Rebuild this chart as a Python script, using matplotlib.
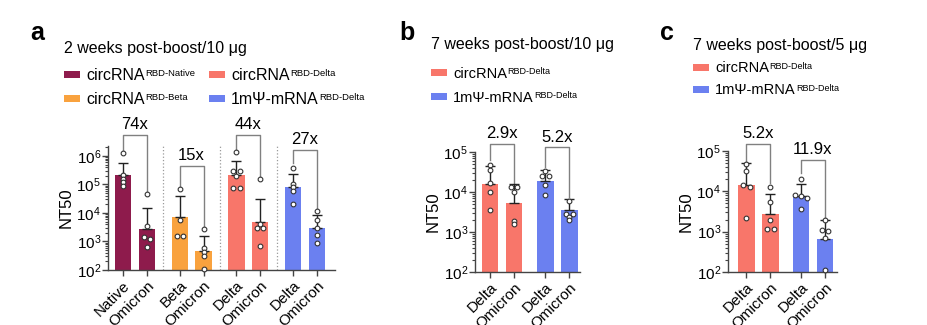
""" NT50 neutralisation panels a-c """

import numpy as np
import matplotlib.pyplot as plt
from matplotlib.patches import Rectangle
from matplotlib.ticker import LogLocator, NullFormatter

plt.rcParams['font.family'] = ['Liberation Sans', 'DejaVu Sans']
plt.rcParams['mathtext.fontset'] = 'custom'
plt.rcParams['mathtext.rm'] = 'Liberation Sans'
plt.rcParams['mathtext.it'] = 'Liberation Sans:italic'
plt.rcParams['mathtext.bf'] = 'Liberation Sans:bold'

W, H = 927, 325

NATIVE = '#8e1b4c'
BETA = '#f9a23e'
DELTA = '#f8766a'
MRNA = '#6b80f0'

# ---- panel a: 2 weeks post-boost / 10 ug
a_labels = ['Native', 'Omicron', 'Beta', 'Omicron', 'Delta', 'Omicron', 'Delta', 'Omicron']
a_colors = [NATIVE, NATIVE, BETA, BETA, DELTA, DELTA, MRNA, MRNA]
a_means = [2.1e5, 2.8e3, 7.3e3, 4.6e2, 2.1e5, 4.8e3, 7.9e4, 2.9e3]
a_err_top = [5.9e5, 1.5e4, 4.0e4, 1.5e3, 6.5e5, 3.1e4, 2.4e5, 8.5e3]
a_points = [
    [1.3e6, 2.2e5, 1.5e5, 1.2e5, 9e4],
    [4.6e4, 3.4e3, 1.4e3, 1.2e3, 6.5e2],
    [6.8e4, 5.7e3, 1.55e3, 1.55e3],
    [2.7e3, 5.7e2, 4.4e2, 3.1e2, 1.1e2],
    [1.4e6, 3e5, 3e5, 2e5, 7.5e4, 7.5e4],
    [1.6e5, 4.2e3, 3e3, 3e3, 7e2],
    [3.9e5, 1.07e5, 8.3e4, 5.9e4, 2e4],
    [1.2e4, 5.9e3, 3e3, 1.7e3, 9e2],
]
a_folds = ['74x', '15x', '44x', '27x']
a_br_top = [5.5e6, 4.5e5, 5.5e6, 1.6e6]
a_br_left = [1.6e6, 7.6e4, 1.6e6, 5.6e5]
a_br_right = [5.6e4, 3.5e3, 1.8e5, 1.5e4]

# ---- panel b: 7 weeks post-boost / 10 ug
b_labels = ['Delta', 'Omicron', 'Delta', 'Omicron']
b_colors = [DELTA, DELTA, MRNA, MRNA]
b_means = [1.55e4, 5.4e3, 1.9e4, 3.5e3]
b_err_top = [4.5e4, 1.6e4, 3.5e4, 6.6e3]
b_points = [
    [4.7e4, 3.5e4, 1.7e4, 1e4, 3.5e3],
    [1.35e4, 1.35e4, 1e4, 1.9e3, 1.6e3],
    [3.4e4, 2.5e4, 2.5e4, 1.5e4, 8.3e3],
    [6e3, 2.9e3, 2.9e3, 2.4e3, 2.0e3],
]
b_folds = ['2.9x', '5.2x']
b_br_top = [1.6e5, 1.3e5]
b_br_left = [6.3e4, 4.2e4]
b_br_right = [1.7e4, 7.5e3]

# ---- panel c: 7 weeks post-boost / 5 ug
c_labels = ['Delta', 'Omicron', 'Delta', 'Omicron']
c_colors = [DELTA, DELTA, MRNA, MRNA]
c_means = [1.44e4, 2.75e3, 7.6e3, 6.6e2]
c_err_top = [4.9e4, 8.4e3, 1.5e4, 1.95e3]
c_points = [
    [4.7e4, 3.2e4, 1.45e4, 1.3e4, 2.2e3],
    [1.3e4, 5.5e3, 1.9e3, 1.15e3, 1.15e3],
    [2e4, 8e3, 7.5e3, 7e3, 3.6e3],
    [1.9e3, 1.1e3, 1.05e3, 7e2, 1.1e2],
]
c_folds = ['5.2x', '11.9x']
c_br_top = [1.5e5, 6e4]
c_br_left = [5.7e4, 2.8e4]
c_br_right = [1.6e4, 2.1e3]


def positions(n_groups, step):
    ''' two bars per group, one unit apart; step = gap from one group's
    second bar to the next group's first bar '''
    xs = []
    for g in range(n_groups):
        start = g * (1 + step)
        xs += [start, start + 1]
    return np.array(xs)


def spread(vals, dx=0.13, tol=0.07):
    ''' horizontal offsets so that near-equal points sit side by side '''
    logs = np.log10(vals)
    offs = np.zeros(len(vals))
    used = np.zeros(len(vals), bool)
    for i in range(len(vals)):
        if used[i]:
            continue
        grp = [j for j in range(len(vals)) if not used[j] and abs(logs[j] - logs[i]) < tol]
        for k, j in enumerate(grp):
            used[j] = True
            offs[j] = (k - (len(grp) - 1) / 2) * 2 * dx
    return offs


def draw_panel(ax, x, labels, colors, means, err_top, points,
               folds, br_top, br_left, br_right, ylim, xlim, seps=()):
    ax.set_yscale('log')
    ax.bar(x, means, width=0.68, color=colors, zorder=2)
    lower = np.zeros(len(means))
    upper = np.array(err_top) - np.array(means)
    ax.errorbar(x, means, yerr=[lower, upper], fmt='none', ecolor='#222222',
                elinewidth=1, capsize=3.3, capthick=1, zorder=3)
    for xi, pts in zip(x, points):
        ax.plot(xi + spread(pts), pts, 'o', ms=3.4, mfc='white', mec='#333333',
                mew=0.8, zorder=4, clip_on=False)
    for k, fold in enumerate(folds):
        x1, x2 = x[2 * k], x[2 * k + 1]
        ax.plot([x1, x1, x2, x2], [br_left[k], br_top[k], br_top[k], br_right[k]],
                color='#808080', lw=1, clip_on=False)
        ax.annotate(fold, ((x1 + x2) / 2, br_top[k]), xytext=(0, 2),
                    textcoords='offset points', ha='center', va='bottom',
                    fontsize=12, annotation_clip=False)
    for s in seps:
        ax.axvline(s, color='#9a9a9a', ls=':', lw=0.9, zorder=1)
    ax.set_ylim(*ylim)
    ax.set_xlim(*xlim)
    ax.set_xticks(x)
    ax.set_xticklabels(labels, rotation=45, ha='right', va='top',
                       rotation_mode='anchor', fontsize=11)
    ax.yaxis.set_major_locator(LogLocator(base=10, numticks=10))
    ax.yaxis.set_minor_locator(LogLocator(base=10, subs=np.arange(2, 10), numticks=20))
    ax.yaxis.set_minor_formatter(NullFormatter())
    ax.tick_params(axis='y', which='major', length=4, width=1, labelsize=11, pad=1,
                   color='#444444')
    ax.tick_params(axis='y', which='minor', length=2.2, width=0.8, color='#444444')
    ax.tick_params(axis='x', length=4, width=1, pad=2, color='#444444')
    for side in ('top', 'right'):
        ax.spines[side].set_visible(False)
    for side in ('left', 'bottom'):
        ax.spines[side].set_color('#444444')
        ax.spines[side].set_linewidth(1)
    ax.set_ylabel('NT50', fontsize=12, labelpad=2)


def fig_xy(px, py):
    return px / W, 1 - py / H


def legend_entry(fig, px, py, color, name, sup, size, sup_size):
    ''' coloured swatch plus label with a small superscript '''
    x0, y0 = fig_xy(px, py + 3.5)
    fig.add_artist(Rectangle((x0, y0), 16 / W, 7 / H, transform=fig.transFigure,
                             color=color, lw=0))
    tx, ty = fig_xy(px + 22, py + 5.5)
    t = fig.text(tx, ty, name, fontsize=size, va='baseline', ha='left')
    plt.annotate(sup, xy=(1, 0.93), xycoords=t, xytext=(0.5, 0),
                 textcoords='offset points', va='top', ha='left', fontsize=sup_size)


fig = plt.figure(figsize=(W / 100, H / 100), dpi=100)

ax_a = fig.add_axes([108 / W, 1 - 270 / H, 227 / W, 124 / H])
xa = positions(4, 1.375)
draw_panel(ax_a, xa, a_labels, a_colors, a_means, a_err_top, a_points,
           a_folds, a_br_top, a_br_left, a_br_right,
           ylim=(1e2, 10 ** 6.35), xlim=(-0.63, 8.88),
           seps=[(xa[1] + xa[2]) / 2, (xa[3] + xa[4]) / 2, (xa[5] + xa[6]) / 2])

ax_b = fig.add_axes([475 / W, 1 - 272 / H, 105 / W, 120 / H])
xb = positions(2, 1.31)
draw_panel(ax_b, xb, b_labels, b_colors, b_means, b_err_top, b_points,
           b_folds, b_br_top, b_br_left, b_br_right,
           ylim=(1e2, 1e5), xlim=(-0.625, 3.75))

ax_c = fig.add_axes([728 / W, 1 - 272 / H, 109 / W, 121 / H])
xc = positions(2, 1.27)
draw_panel(ax_c, xc, c_labels, c_colors, c_means, c_err_top, c_points,
           c_folds, c_br_top, c_br_left, c_br_right,
           ylim=(1e2, 1e5), xlim=(-0.77, 3.77))

# panel letters and titles
for letter, px in (('a', 30), ('b', 399), ('c', 660)):
    fig.text(*fig_xy(px, 40), letter, fontsize=18, fontweight='bold', va='baseline')
fig.text(*fig_xy(64, 53), '2 weeks post-boost/10 μg', fontsize=11.5, va='baseline')
fig.text(*fig_xy(431, 49), '7 weeks post-boost/10 μg', fontsize=11.5, va='baseline')
fig.text(*fig_xy(693, 50), '7 weeks post-boost/5 μg', fontsize=11.5, va='baseline')

# legends
legend_entry(fig, 64, 74, NATIVE, 'circRNA', 'RBD-Native', 11.5, 6.8)
legend_entry(fig, 64, 98, BETA, 'circRNA', 'RBD-Beta', 11.5, 6.8)
legend_entry(fig, 209, 74, DELTA, 'circRNA', 'RBD-Delta', 11.5, 6.8)
legend_entry(fig, 209, 98, MRNA, '1mΨ-mRNA', 'RBD-Delta', 11.5, 6.8)
legend_entry(fig, 431, 72, DELTA, 'circRNA', 'RBD-Delta', 10.5, 6.5)
legend_entry(fig, 431, 96, MRNA, '1mΨ-mRNA', 'RBD-Delta', 10.5, 6.5)
legend_entry(fig, 693, 67, DELTA, 'circRNA', 'RBD-Delta', 10.5, 6.5)
legend_entry(fig, 693, 89, MRNA, '1mΨ-mRNA', 'RBD-Delta', 10.5, 6.5)

fig.savefig('out.png', dpi=100)
